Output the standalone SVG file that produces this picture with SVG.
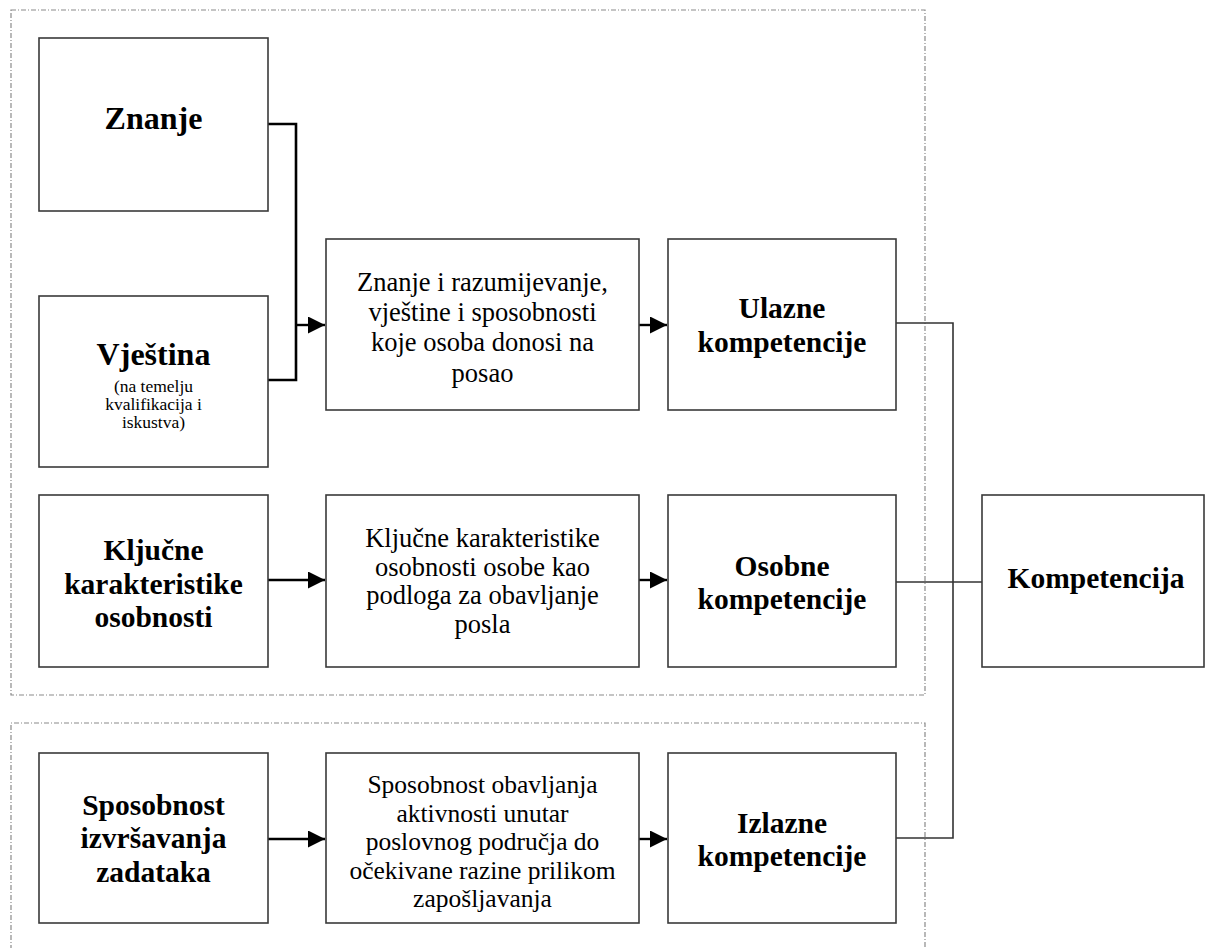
<svg xmlns="http://www.w3.org/2000/svg" width="1206" height="948" viewBox="0 0 1206 948">
<style>
.box{fill:#fff;stroke:#3a3a3a;stroke-width:1.6}
.grp{fill:none;stroke:#8a8a8a;stroke-width:1.2;stroke-dasharray:5,2,1,2}
.b{font-family:"Liberation Serif","Times New Roman",serif;font-weight:bold;font-size:29.5px;fill:#000;text-anchor:middle}
.big{font-size:32px}
.r{font-family:"Liberation Serif","Times New Roman",serif;font-size:26.5px;fill:#000;text-anchor:middle}
.r3{font-size:25.5px}
.s{font-family:"Liberation Serif","Times New Roman",serif;font-size:17.5px;fill:#000;text-anchor:middle}
.thick{fill:none;stroke:#000;stroke-width:2.6}
.arr{fill:none;stroke:#000;stroke-width:2.4;marker-end:url(#ah)}
.thin{fill:none;stroke:#333;stroke-width:1.6}
</style>
<defs>
<marker id="ah" markerWidth="17" markerHeight="17" refX="17" refY="8.5" orient="auto" markerUnits="userSpaceOnUse">
<path d="M0,0 L17,8.5 L0,17 Z" fill="#000"/>
</marker>
</defs>
<rect width="1206" height="948" fill="#fff"/>
<g id="groups">
<rect class="grp" x="11" y="10" width="914" height="685"/>
<path class="grp" d="M11,960 L11,723 L925,723 L925,960"/>
</g>
<g id="connectors">
<path class="thick" d="M268,124 L296,124 L296,380 L268,380"/>
<path class="arr" d="M296,325 L325,325"/>
<path class="arr" d="M639,325 L667,325"/>
<path class="arr" d="M268,580 L325,580"/>
<path class="arr" d="M639,580 L667,580"/>
<path class="arr" d="M268,839 L325,839"/>
<path class="arr" d="M639,839 L667,839"/>
<path class="thin" d="M896,323 L953,323 L953,838 L896,838"/>
<path class="thin" d="M896,582 L982,582"/>
</g>
<g id="znanje">
<rect class="box" x="39" y="38" width="229" height="173"/>
<text class="b big" x="153.5" y="129">Znanje</text>
</g>
<g id="vjestina">
<rect class="box" x="39" y="296" width="229" height="171"/>
<text class="b big" x="153.5" y="365">Vještina</text>
<text class="s" x="153.5" y="392">(na temelju</text>
<text class="s" x="153.5" y="410">kvalifikacija i</text>
<text class="s" x="153.5" y="428">iskustva)</text>
</g>
<g id="znanje-razumijevanje">
<rect class="box" x="326" y="239" width="313" height="171"/>
<text class="r" x="482.5" y="291">Znanje i razumijevanje,</text>
<text class="r" x="482.5" y="321">vještine i sposobnosti</text>
<text class="r" x="482.5" y="351">koje osoba donosi na</text>
<text class="r" x="482.5" y="382">posao</text>
</g>
<g id="ulazne">
<rect class="box" x="668" y="239" width="228" height="171"/>
<text class="b" x="782" y="318">Ulazne</text>
<text class="b" x="782" y="352">kompetencije</text>
</g>
<g id="kljucne">
<rect class="box" x="39" y="495" width="229" height="172"/>
<text class="b" x="153.5" y="560">Ključne</text>
<text class="b" x="153.5" y="594">karakteristike</text>
<text class="b" x="153.5" y="627">osobnosti</text>
</g>
<g id="kljucne-opis">
<rect class="box" x="326" y="495" width="313" height="172"/>
<text class="r" x="482.5" y="547">Ključne karakteristike</text>
<text class="r" x="482.5" y="576">osobnosti osobe kao</text>
<text class="r" x="482.5" y="604">podloga za obavljanje</text>
<text class="r" x="482.5" y="633">posla</text>
</g>
<g id="osobne">
<rect class="box" x="668" y="495" width="228" height="172"/>
<text class="b" x="782" y="576">Osobne</text>
<text class="b" x="782" y="609">kompetencije</text>
</g>
<g id="kompetencija">
<rect class="box" x="982" y="495" width="222" height="172"/>
<text class="b" x="1096" y="588">Kompetencija</text>
</g>
<g id="sposobnost">
<rect class="box" x="39" y="753" width="229" height="170"/>
<text class="b" x="153.5" y="815">Sposobnost</text>
<text class="b" x="153.5" y="848">izvršavanja</text>
<text class="b" x="153.5" y="882">zadataka</text>
</g>
<g id="sposobnost-opis">
<rect class="box" x="326" y="753" width="313" height="170"/>
<text class="r r3" x="482.5" y="793">Sposobnost obavljanja</text>
<text class="r r3" x="482.5" y="822">aktivnosti unutar</text>
<text class="r r3" x="482.5" y="850">poslovnog područja do</text>
<text class="r r3" x="482.5" y="879">očekivane razine prilikom</text>
<text class="r r3" x="482.5" y="907">zapošljavanja</text>
</g>
<g id="izlazne">
<rect class="box" x="668" y="753" width="228" height="170"/>
<text class="b" x="782" y="833">Izlazne</text>
<text class="b" x="782" y="866">kompetencije</text>
</g>
</svg>
